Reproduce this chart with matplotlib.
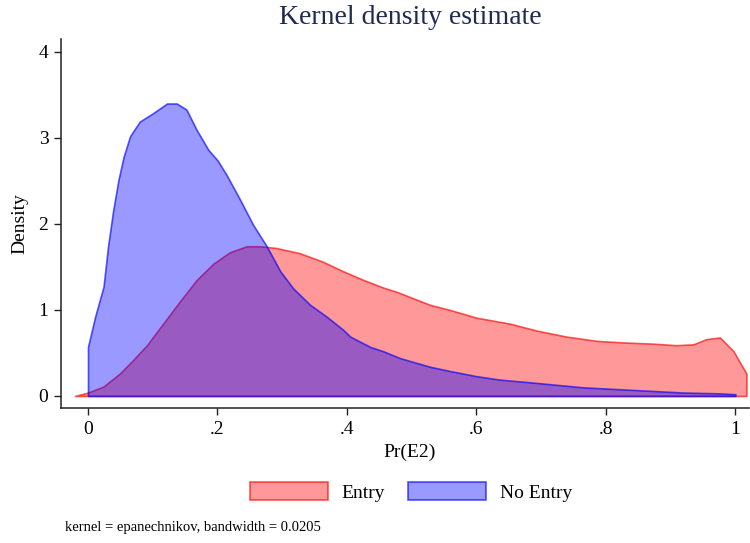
import matplotlib.pyplot as plt

plt.rcParams['font.family'] = ['Liberation Serif', 'DejaVu Serif']

# Kernel density, Entry group
entry_x = [-0.02, 0.0, 0.024, 0.049, 0.070, 0.091, 0.116, 0.142, 0.168, 0.194,
           0.219, 0.245, 0.266, 0.291, 0.327, 0.363, 0.394, 0.425, 0.456, 0.477,
           0.528, 0.559, 0.600, 0.652, 0.693, 0.739, 0.786, 0.832, 0.868, 0.909,
           0.935, 0.955, 0.976, 0.997, 1.017]
entry_d = [0.0, 0.04, 0.11, 0.26, 0.42, 0.59, 0.84, 1.10, 1.35, 1.54,
           1.67, 1.74, 1.74, 1.72, 1.66, 1.56, 1.45, 1.35, 1.26, 1.21,
           1.06, 1.00, 0.91, 0.84, 0.76, 0.69, 0.64, 0.62, 0.61, 0.59,
           0.60, 0.66, 0.68, 0.52, 0.26]

# Kernel density, No Entry group
noentry_x = [0.0, 0.011, 0.024, 0.031, 0.039, 0.047, 0.055, 0.065, 0.080, 0.101,
             0.122, 0.137, 0.152, 0.168, 0.186, 0.200, 0.214, 0.235, 0.255,
             0.276, 0.297, 0.317, 0.343, 0.369, 0.394, 0.405, 0.436, 0.456, 0.482,
             0.528, 0.559, 0.600, 0.636, 0.688, 0.765, 0.842, 0.919, 0.976, 1.0]
noentry_d = [0.57, 0.92, 1.27, 1.74, 2.16, 2.51, 2.78, 3.02, 3.19, 3.29,
             3.40, 3.40, 3.33, 3.09, 2.86, 2.74, 2.57, 2.28, 1.99,
             1.74, 1.45, 1.25, 1.06, 0.92, 0.77, 0.69, 0.57, 0.52, 0.44,
             0.34, 0.29, 0.23, 0.19, 0.155, 0.10, 0.07, 0.04, 0.03, 0.02]

xticks = [0, 0.2, 0.4, 0.6, 0.8, 1.0]
xtick_labels = ['0', '.2', '.4', '.6', '.8', '1']
yticks = [0, 1, 2, 3, 4]

fig = plt.figure(figsize=(7.5, 5.43), dpi=100)
ax = fig.add_axes([61 / 750, 135 / 543, 688 / 750, 369 / 543])

ax.fill_between(entry_x, entry_d, 0, facecolor=(1, 0, 0, 0.4),
                edgecolor=(1, 0, 0, 0.65), linewidth=1.2, label='Entry')
ax.fill_between(noentry_x, noentry_d, 0, facecolor=(0, 0, 1, 0.4),
                edgecolor=(0, 0, 1, 0.65), linewidth=1.2, label='No Entry')

ax.set_xlim(-0.0417, 1.021)
ax.set_ylim(-0.14, 4.15)
ax.set_xticks(xticks)
ax.set_xticklabels(xtick_labels)
ax.set_yticks(yticks)

for s in ['top', 'right']:
    ax.spines[s].set_visible(False)
for s in ['left', 'bottom']:
    ax.spines[s].set_color('#222222')
    ax.spines[s].set_linewidth(1.1)
ax.tick_params(direction='out', length=5, width=1, color='#222222',
               labelsize=14, pad=4)

fig.text(410 / 750, 1 - 18 / 543, 'Kernel density estimate', ha='center',
         va='center', fontsize=20, color='#1e2a50')
fig.text(410 / 750, 1 - 452 / 543, 'Pr(E2)', ha='center', va='center', fontsize=14)
fig.text(20 / 750, 1 - 224 / 543, 'Density', ha='center', va='center',
         fontsize=14, rotation=90)
fig.text(65 / 750, 1 - 527 / 543, 'kernel = epanechnikov, bandwidth = 0.0205',
         ha='left', va='center', fontsize=10.5)

fig.legend(loc='center', bbox_to_anchor=(411 / 750, 1 - 492 / 543), ncol=2,
           frameon=False, fontsize=14, handlelength=4.0, handleheight=1.05,
           handletextpad=0.7, columnspacing=1.2)

fig.savefig('out.png', dpi=100)
